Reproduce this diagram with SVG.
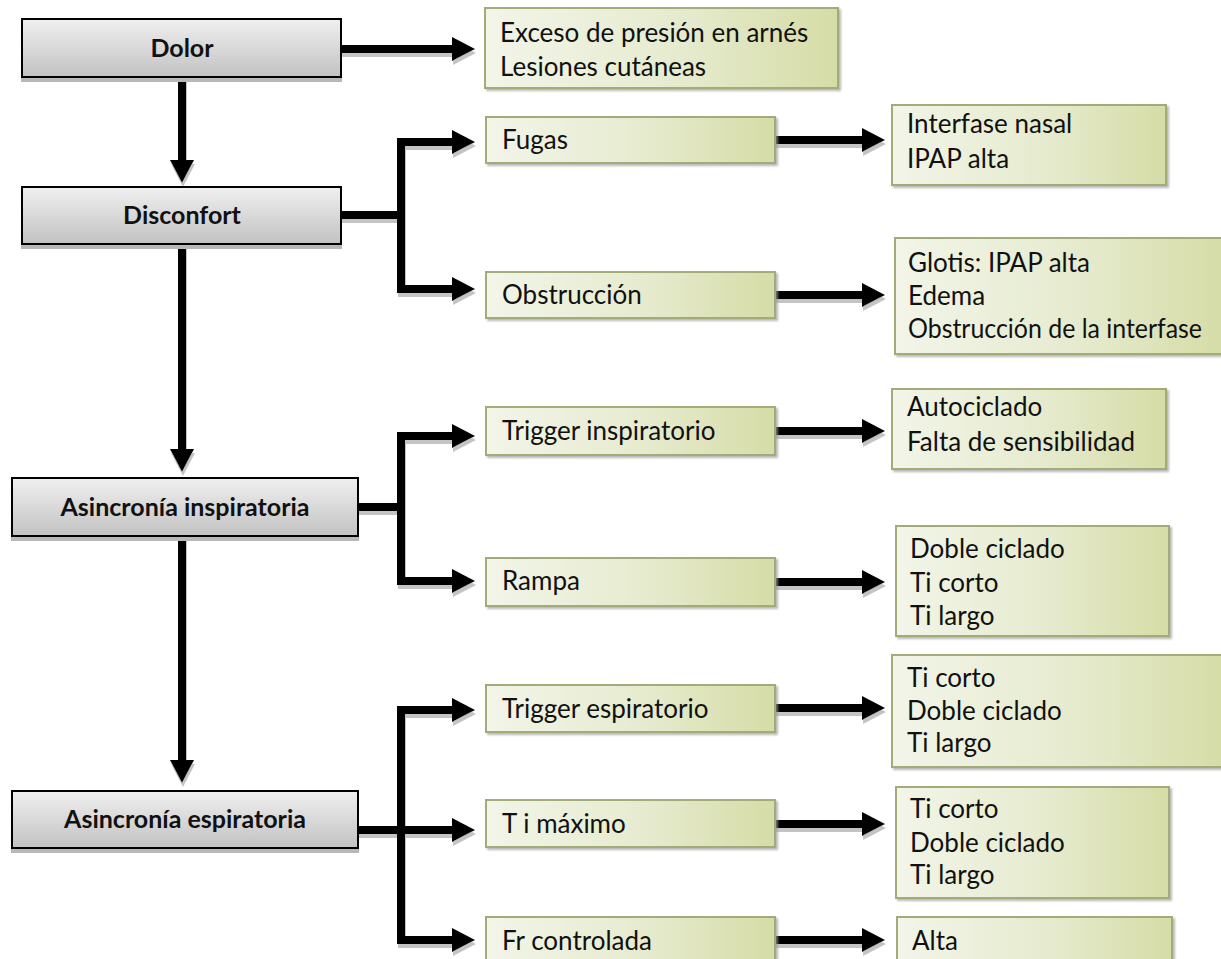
<svg xmlns="http://www.w3.org/2000/svg" width="1221" height="959" viewBox="0 0 1221 959">
<defs>
<linearGradient id="gGray" x1="0" y1="0" x2="0" y2="1">
<stop offset="0" stop-color="#f0f0f0"/>
<stop offset="1" stop-color="#c2c2c2"/>
</linearGradient>
<linearGradient id="gGreen" x1="0" y1="0" x2="1" y2="0">
<stop offset="0" stop-color="#f2f5e8"/>
<stop offset="0.55" stop-color="#e6ebcf"/>
<stop offset="1" stop-color="#d6dca6"/>
</linearGradient>
<filter id="shGray" x="-5%" y="-20%" width="110%" height="150%">
<feDropShadow dx="0" dy="4" stdDeviation="0.6" flood-color="#b8b8b8" flood-opacity="1"/>
</filter>
<filter id="shGreen" x="-5%" y="-20%" width="110%" height="150%">
<feDropShadow dx="2" dy="2" stdDeviation="1.2" flood-color="#9a9a9a" flood-opacity="0.7"/>
</filter>
<filter id="shLine" x="-10%" y="-30%" width="120%" height="160%">
<feDropShadow dx="1" dy="4" stdDeviation="0.6" flood-color="#c4c4c4" flood-opacity="1"/>
</filter>
<marker id="ah" markerUnits="userSpaceOnUse" markerWidth="24" markerHeight="26" refX="0" refY="12" orient="auto" overflow="visible">
<path d="M0,0 L23,12 L0,24 Z" fill="#000"/>
</marker>
</defs>
<style>
.gbox{fill:url(#gGray);stroke:#000;stroke-width:2;filter:url(#shGray)}
.nbox{fill:url(#gGreen);stroke:#a3ab78;stroke-width:2;filter:url(#shGreen)}
.bt{font-family:Lato,"Liberation Sans",sans-serif;font-weight:bold;font-size:25px;fill:#111;text-anchor:middle}
.t{font-family:Lato,"Liberation Sans",sans-serif;font-size:26px;fill:#111}
.c{fill:none;stroke:#000;stroke-width:8;stroke-linejoin:miter}
.ca{fill:none;stroke:#000;stroke-width:8;stroke-linejoin:miter;marker-end:url(#ah)}
</style>
<rect width="1221" height="959" fill="#fff"/>

<g id="connectors" filter="url(#shLine)">
<path class="ca" d="M341,49 H452"/>
<path class="ca" d="M182,77 V160"/>
<path class="ca" d="M182,244 V449"/>
<path class="ca" d="M182,536 V760"/>
<path class="c" d="M341,215 H401"/>
<path class="ca" d="M401,219 V142 H452"/>
<path class="ca" d="M401,211 V289 H452"/>
<path class="ca" d="M775,140 H862"/>
<path class="ca" d="M775,295 H862"/>
<path class="c" d="M358,507 H401"/>
<path class="ca" d="M401,511 V436 H452"/>
<path class="ca" d="M401,503 V581 H452"/>
<path class="ca" d="M775,431 H862"/>
<path class="ca" d="M775,582 H862"/>
<path class="ca" d="M358,830 H452"/>
<path class="ca" d="M401,834 V710 H452"/>
<path class="ca" d="M401,826 V940 H452"/>
<path class="ca" d="M775,708 H862"/>
<path class="ca" d="M775,824 H862"/>
<path class="ca" d="M775,940 H862"/>
</g>

<g id="dolor"><rect class="gbox" x="22" y="19" width="319" height="58"/><text class="bt" x="182" y="57">Dolor</text></g>
<g id="disconfort"><rect class="gbox" x="22" y="187" width="319" height="57"/><text class="bt" x="182" y="224">Disconfort</text></g>
<g id="asinc-insp"><rect class="gbox" x="12" y="478" width="346" height="58"/><text class="bt" x="185" y="516">Asincronía inspiratoria</text></g>
<g id="asinc-esp"><rect class="gbox" x="12" y="791" width="346" height="57"/><text class="bt" x="185" y="828">Asincronía espiratoria</text></g>

<g id="exceso"><rect class="nbox" x="485" y="8" width="353" height="80"/><text class="t" x="500" y="42">Exceso de presión en arnés</text><text class="t" x="500" y="76">Lesiones cutáneas</text></g>
<g id="fugas"><rect class="nbox" x="486" y="117" width="289" height="46"/><text class="t" x="502" y="149">Fugas</text></g>
<g id="obstruccion"><rect class="nbox" x="486" y="272" width="289" height="46"/><text class="t" x="502" y="304">Obstrucción</text></g>
<g id="interfase"><rect class="nbox" x="892" y="105" width="274" height="80"/><text class="t" x="907" y="133">Interfase nasal</text><text class="t" x="907" y="168">IPAP alta</text></g>
<g id="glotis"><rect class="nbox" x="895" y="238" width="330" height="116"/><text class="t" x="908" y="272">Glotis: IPAP alta</text><text class="t" x="908" y="305">Edema</text><text class="t" x="908" y="338" textLength="294" lengthAdjust="spacingAndGlyphs">Obstrucción de la interfase</text></g>

<g id="trigger-insp"><rect class="nbox" x="486" y="407" width="289" height="48"/><text class="t" x="502" y="440">Trigger inspiratorio</text></g>
<g id="rampa"><rect class="nbox" x="486" y="558" width="289" height="48"/><text class="t" x="502" y="590">Rampa</text></g>
<g id="autociclado"><rect class="nbox" x="892" y="389" width="274" height="80"/><text class="t" x="907" y="416">Autociclado</text><text class="t" x="907" y="451">Falta de sensibilidad</text></g>
<g id="doble1"><rect class="nbox" x="896" y="526" width="273" height="110"/><text class="t" x="910" y="558">Doble ciclado</text><text class="t" x="910" y="592">Ti corto</text><text class="t" x="910" y="625">Ti largo</text></g>

<g id="trigger-esp"><rect class="nbox" x="486" y="685" width="289" height="47"/><text class="t" x="502" y="718">Trigger espiratorio</text></g>
<g id="ti-maximo"><rect class="nbox" x="486" y="800" width="289" height="47"/><text class="t" x="502" y="833">T i máximo</text></g>
<g id="fr-controlada"><rect class="nbox" x="486" y="917" width="289" height="50"/><text class="t" x="502" y="950">Fr controlada</text></g>
<g id="ticorto1"><rect class="nbox" x="892" y="655" width="333" height="112"/><text class="t" x="907" y="687">Ti corto</text><text class="t" x="907" y="720">Doble ciclado</text><text class="t" x="907" y="752">Ti largo</text></g>
<g id="ticorto2"><rect class="nbox" x="896" y="787" width="273" height="111"/><text class="t" x="910" y="818">Ti corto</text><text class="t" x="910" y="852">Doble ciclado</text><text class="t" x="910" y="884">Ti largo</text></g>
<g id="alta"><rect class="nbox" x="897" y="917" width="275" height="50"/><text class="t" x="912" y="950">Alta</text></g>
</svg>
